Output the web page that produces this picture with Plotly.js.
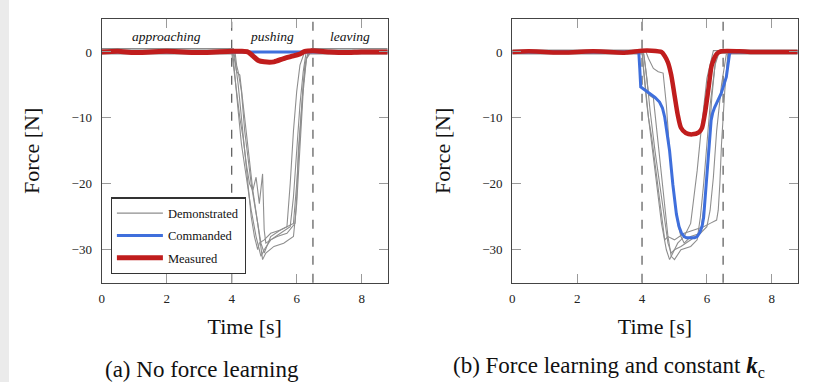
<!DOCTYPE html>
<html>
<head>
<meta charset="utf-8">
<script src="https://cdn.plot.ly/plotly-3.0.1.min.js"></script>
<style>html,body{margin:0;padding:0;background:#fff;}#chart{width:816px;height:382px;}</style>
</head>
<body>
<div id="chart"></div>
<script>
// ---------- data ----------
const xTicks = [0, 2, 4, 6, 8];
const yTicks = [0, -10, -20, -30];
const phaseBounds = [4, 6.5];
const phaseLabels = ['approaching', 'pushing', 'leaving'];
const phaseCenters = [2.0, 5.24, 7.64];

// (a) No force learning — demonstrations
const a1T = [0, 4.0, 4.05, 4.1, 4.2, 4.3, 4.45, 4.6, 4.75, 4.9, 5.0, 5.2, 5.5, 5.8, 5.9, 6.0, 6.1, 6.2, 6.3, 8.8];
const a1F = [0.3, 0.3, -1, -4, -9, -14, -19, -24, -28, -31, -30, -28.5, -27.5, -26.5, -22, -15, -8, -3, 0.3, 0.3];
const a2T = [0, 4.05, 4.1, 4.15, 4.25, 4.35, 4.5, 4.65, 4.8, 4.95, 5.05, 5.3, 5.6, 5.9, 6.0, 6.1, 6.2, 6.3, 6.4, 8.8];
const a2F = [-0.3, -0.3, -1.5, -3, -3.5, -8, -15, -21, -26, -31.5, -30.5, -29.5, -29, -28, -23, -14, -6, -1, -0.3, -0.3];
const a3T = [0, 4.1, 4.15, 4.2, 4.3, 4.4, 4.5, 4.6, 4.7, 4.8, 4.9, 5.0, 5.2, 5.5, 5.7, 5.8, 5.9, 6.0, 6.1, 6.25, 8.8];
const a3F = [0.1, 0.1, -2, -3, -6, -12, -16, -20, -23, -26, -29, -30.5, -28, -27, -26.5, -20, -12, -6, -2, 0.1, 0.1];
const a4T = [0, 4.0, 4.05, 4.15, 4.25, 4.35, 4.45, 4.55, 4.65, 4.75, 4.85, 4.95, 5.0, 5.05, 5.2, 5.4, 5.7, 5.95, 6.0, 6.05, 6.15, 6.25, 6.35, 8.8];
const a4F = [-0.1, -0.1, -2, -6, -10, -13, -17, -20, -21, -19, -23, -18.5, -27, -29, -28.5, -28, -27.5, -26, -22, -15, -8, -2, -0.1, -0.1];
const a5T = [0, 4.05, 4.1, 4.2, 4.3, 4.4, 4.5, 4.6, 4.7, 4.8, 4.85, 5.0, 5.2, 5.5, 5.7, 5.9, 6.0, 6.1, 6.2, 6.3, 6.45, 8.8];
const a5F = [0.5, 0.5, -1, -5, -10, -15, -20, -25, -28, -30, -29, -28.5, -27.5, -27, -26.5, -26, -20, -12, -5, -1, 0.5, 0.5];
// (a) commanded and measured
const aCmdT = [0, 8.8];
const aCmdF = [0, 0];
const aMeasT = [0, 0.5, 1.0, 1.5, 2.0, 2.5, 3.0, 3.5, 4.0, 4.3, 4.5, 4.65, 4.82, 5.0, 5.3, 5.6, 5.9, 6.1, 6.25, 6.5, 7.0, 7.5, 8.0, 8.8];
const aMeasF = [0, 0.1, -0.1, 0, 0.1, 0, -0.1, 0, 0.1, 0.1, 0, -0.6, -1.3, -1.5, -1.5, -1.0, -0.6, -0.3, 0.1, 0.2, 0, -0.1, 0, 0];

// (b) Force learning and constant k_c — demonstrations
const b1T = [0, 4.0, 4.05, 4.15, 4.3, 4.45, 4.6, 4.75, 4.85, 4.95, 5.1, 5.3, 5.5, 5.6, 5.7, 5.8, 5.9, 6.0, 6.2, 8.8];
const b1F = [0.2, 0.2, -3, -8, -14, -20, -26, -30, -31.5, -30.5, -29, -28, -26, -22, -18, -13, -8, -4, 0.2, 0.2];
const b2T = [0, 4.05, 4.1, 4.2, 4.35, 4.5, 4.6, 4.7, 4.8, 4.9, 5.0, 5.2, 5.5, 5.7, 5.8, 5.9, 6.0, 6.1, 6.3, 8.8];
const b2F = [-0.2, -0.2, -2, -6.5, -7, -14, -19, -24, -28, -31, -31.5, -30, -29.5, -28.5, -25, -20, -14, -8, -0.2, -0.2];
const b3T = [0, 4.1, 4.2, 4.35, 4.5, 4.65, 4.75, 4.85, 5.0, 5.1, 5.2, 5.3, 5.5, 5.8, 5.95, 6.05, 6.15, 6.25, 6.4, 8.8];
const b3F = [0.3, 0.3, -1, -2.5, -3, -3.2, -8, -15, -22, -26, -28, -29, -28, -27.5, -22, -14, -7, -2, 0.3, 0.3];
const b4T = [0, 4.0, 4.1, 4.2, 4.3, 4.4, 4.5, 4.6, 4.7, 4.8, 5.0, 5.3, 5.6, 5.9, 6.1, 6.3, 6.35, 6.4, 6.45, 6.55, 6.65, 8.8];
const b4F = [0, 0, -5, -10, -13, -17, -21, -25, -28.5, -28, -28.5, -27.5, -27, -26.5, -26, -25.5, -24, -20, -14, -6, 0, 0];
const b5T = [0, 4.05, 4.15, 4.25, 4.4, 4.55, 4.7, 4.8, 4.9, 5.0, 5.2, 5.5, 5.8, 6.0, 6.1, 6.2, 6.3, 6.45, 6.6, 8.8];
const b5F = [-0.3, -0.3, -4, -9, -15, -20, -25, -29, -30.5, -30, -29.5, -28.5, -27.5, -26.5, -24, -19, -12, -5, -0.3, -0.3];
// (b) commanded and measured
const bCmdT = [0, 3.9, 3.93, 3.96, 4.1, 4.24, 4.4, 4.54, 4.63, 4.70, 4.80, 4.85, 4.95, 5.06, 5.14, 5.21, 5.30, 5.37, 5.62, 5.70, 5.78, 5.85, 5.90, 5.98, 6.06, 6.13, 6.18, 6.24, 6.44, 6.52, 6.60, 6.65, 6.70, 6.75, 8.8];
const bCmdF = [0, 0, -2.5, -5.3, -5.8, -6.3, -6.9, -7.6, -8.5, -9.9, -13.5, -15, -20.1, -24.6, -26.5, -27.4, -28, -28.2, -28.2, -28, -27.4, -26.5, -25.1, -20.1, -15, -10.4, -9.2, -8.4, -6.3, -5.2, -3.8, -2, -0.25, 0, 0];
const bMeasT = [0, 0.5, 1.0, 1.5, 2.0, 2.5, 3.0, 3.5, 4.0, 4.3, 4.6, 4.7, 4.8, 4.9, 5.0, 5.1, 5.2, 5.35, 5.55, 5.75, 5.85, 5.95, 6.05, 6.15, 6.3, 6.45, 7.0, 7.5, 8.0, 8.8];
const bMeasF = [0, 0.1, 0, -0.1, 0, 0.1, 0, -0.1, 0.2, 0.2, 0, -0.6, -1.6, -3.5, -6.5, -9.5, -11.5, -12.3, -12.5, -12.2, -11.5, -9, -5.5, -2, -0.3, 0.1, 0.1, 0, 0, 0];

// ---------- styling ----------
const GRAY = '#8e8e8e', BLUE = '#3f6fdc', RED = '#c01d1d';
const SERIF = 'Liberation Serif, Times New Roman, serif';

function demo(t, f, ax, first) {
  return {x: t, y: f, xaxis: ax[0], yaxis: ax[1], type: 'scatter', mode: 'lines',
    line: {color: GRAY, width: 1.1}, name: 'Demonstrated', legendgroup: 'demo',
    showlegend: first, hoverinfo: 'skip'};
}
const A = ['x', 'y'], B = ['x2', 'y2'];
const traces = [
  demo(a1T, a1F, A, true), demo(a2T, a2F, A, false), demo(a3T, a3F, A, false),
  demo(a4T, a4F, A, false), demo(a5T, a5F, A, false),
  {x: aCmdT, y: aCmdF, xaxis: 'x', yaxis: 'y', mode: 'lines', line: {color: BLUE, width: 3},
    name: 'Commanded', legendgroup: 'cmd', showlegend: true},
  {x: aMeasT, y: aMeasF, xaxis: 'x', yaxis: 'y', mode: 'lines', line: {color: RED, width: 5, shape: 'spline', smoothing: 0.6},
    name: 'Measured', legendgroup: 'meas', showlegend: true},
  demo(b1T, b1F, B, false), demo(b2T, b2F, B, false), demo(b3T, b3F, B, false),
  demo(b4T, b4F, B, false), demo(b5T, b5F, B, false),
  {x: bCmdT, y: bCmdF, xaxis: 'x2', yaxis: 'y2', mode: 'lines', line: {color: BLUE, width: 3},
    name: 'Commanded', legendgroup: 'cmd', showlegend: false},
  {x: bMeasT, y: bMeasF, xaxis: 'x2', yaxis: 'y2', mode: 'lines', line: {color: RED, width: 4.5, shape: 'spline', smoothing: 0.6},
    name: 'Measured', legendgroup: 'meas', showlegend: false}
];

function xax(domain, anchor) {
  return {domain: domain, anchor: anchor, range: [0, 8.8], tickvals: xTicks, ticktext: xTicks.map(String),
    ticks: 'inside', ticklen: 9, tickcolor: '#9a9a9a', tickwidth: 1, mirror: 'allticks',
    showline: true, linecolor: '#444', linewidth: 1.2, showgrid: false, zeroline: false,
    ticklabelstandoff: 3,
    tickfont: {family: SERIF, size: 13, color: '#222'},
    title: {text: 'Time [s]', font: {family: SERIF, size: 22, color: '#111'}, standoff: 14}};
}
function yax(domain, anchor) {
  return {domain: domain, anchor: anchor, range: [-35, 5], tickvals: yTicks,
    ticks: 'inside', ticklen: 9, tickcolor: '#9a9a9a', tickwidth: 1, mirror: 'allticks',
    showline: true, linecolor: '#444', linewidth: 1.2, showgrid: false, zeroline: false,
    ticklabelstandoff: 6,
    tickfont: {family: SERIF, size: 13, color: '#222'},
    title: {text: 'Force [N]', font: {family: SERIF, size: 22, color: '#111'}, standoff: 25}};
}

const shapes = [{type: 'rect', xref: 'paper', yref: 'paper', x0: 0, x1: 9 / 816, y0: 0, y1: 1,
  fillcolor: '#ebebeb', line: {width: 0}, layer: 'below'}];
['x', 'x2'].forEach(function (xr) {
  const yr = xr === 'x' ? 'y domain' : 'y2 domain';
  phaseBounds.forEach(function (b) {
    shapes.push({type: 'line', xref: xr, yref: yr, x0: b, x1: b, y0: 0, y1: 1,
      line: {color: '#555', width: 1.2, dash: 'dash'}, layer: 'below'});
  });
});

const annotations = phaseLabels.map(function (lab, i) {
  return {text: lab, x: phaseCenters[i], y: 2.4, xref: 'x', yref: 'y', showarrow: false,
    font: {family: SERIF, size: 13.5, style: 'italic', color: '#111'}};
});
annotations.push({text: '(a) No force learning', x: 201.5 / 816, y: 13 / 382, xref: 'paper', yref: 'paper',
  showarrow: false, xanchor: 'center', yanchor: 'middle', font: {family: SERIF, size: 23, color: '#111'}});
annotations.push({text: '(b) Force learning and constant <b><i>k</i></b><sub>c</sub>', x: 609 / 816, y: 15 / 382,
  xref: 'paper', yref: 'paper', showarrow: false, xanchor: 'center', yanchor: 'middle',
  font: {family: SERIF, size: 23, color: '#111'}});

const layout = {
  width: 816, height: 382, margin: {l: 0, r: 0, t: 0, b: 0},
  paper_bgcolor: '#fff', plot_bgcolor: '#fff',
  xaxis: xax([101.7 / 816, 387.7 / 816], 'y'),
  yaxis: yax([99.3 / 382, 363 / 382], 'x'),
  xaxis2: xax([512.3 / 816, 797.7 / 816], 'y2'),
  yaxis2: yax([99.3 / 382, 363 / 382], 'x2'),
  showlegend: true,
  legend: {x: 110.7 / 816, y: (382 - 197.3) / 382, xanchor: 'left', yanchor: 'top',
    bgcolor: '#fff', bordercolor: '#333', borderwidth: 1.2, traceorder: 'grouped', tracegroupgap: 3,
    itemwidth: 46,
    font: {family: SERIF, size: 12.5, color: '#111'}},
  shapes: shapes,
  annotations: annotations
};

Plotly.newPlot('chart', traces, layout, {displayModeBar: false, staticPlot: true});
</script>
</body>
</html>
